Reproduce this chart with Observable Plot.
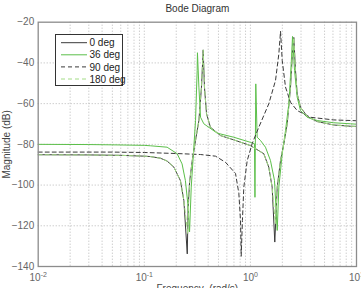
<!DOCTYPE html>
<html><head><meta charset="utf-8">
<script src="https://cdn.jsdelivr.net/npm/d3@7"></script>
<script src="https://cdn.jsdelivr.net/npm/@observablehq/plot@0.6"></script>
<style>
html,body{margin:0;padding:0;background:#fff;}
#chart{position:relative;width:361px;height:288px;overflow:hidden;}
</style></head><body><div id="chart"></div>
<script>
const title = "Bode Diagram";
const xLabel = "Frequency  (rad/s)";
const yLabel = "Magnitude (dB)";
const seriesNames = ["0 deg", "36 deg", "90 deg", "180 deg"];
const seriesColors = ["#3a3a3a", "#5cbf4a", "#3a3a3a", "#a3dc86"];
const seriesDash = [null, null, "4,3", "4,3"];

const freq0 = [0.01,0.03,0.06,0.1,0.114,0.142,0.164,0.19,0.219,0.236,0.254,0.259,0.268,0.283,0.304,0.327,0.346,0.359,0.369,0.386,0.42,0.523,0.697,1.0,1.337,1.49,1.603,1.698,1.79,1.923,2.066,2.223,2.388,2.51,2.566,2.661,2.76,2.966,3.43,4.26,6.11,8.77,10];
const mag0 = [-85.1,-85.2,-85.4,-85.8,-86.0,-86.8,-88.2,-91.2,-97.8,-107.6,-133.8,-110.9,-97.8,-88,-78.1,-68.3,-51.9,-33.6,-51.9,-65,-71.6,-75.7,-77.8,-80.6,-84.6,-91.2,-101,-128,-101,-87.9,-79.7,-69.9,-51.9,-32,-27.5,-43.7,-55.2,-61.7,-66.3,-68.8,-70.5,-71.1,-71.2];

const freq36 = [0.01,0.03,0.06,0.1,0.114,0.164,0.204,0.227,0.244,0.257,0.267,0.277,0.293,0.304,0.315,0.317,0.327,0.339,0.364,0.486,0.697,1.0,1.092,1.104,1.124,1.158,1.245,1.387,1.545,1.686,1.79,1.854,1.995,2.143,2.303,2.425,2.495,2.606,2.76,2.966,3.43,4.26,6.11,8.77,10];
const mag36 = [-80.0,-80.1,-80.3,-80.5,-80.7,-81.4,-84.6,-89.6,-97.8,-109,-123,-101,-81.4,-68.3,-43.7,-35,-51.9,-66.7,-69.9,-74.5,-76.5,-79,-79.7,-106,-50.3,-76.5,-78.1,-81.4,-87.9,-97.7,-122.3,-101,-84.6,-73.2,-60.1,-40.4,-27,-43.7,-56.8,-63.4,-66.7,-68.3,-69.4,-69.9,-70.1];

const freq90 = [0.01,0.05,0.1,0.2,0.339,0.469,0.582,0.724,0.778,0.807,0.819,0.841,0.867,0.933,1.04,1.2,1.49,1.725,1.854,1.923,1.995,2.143,2.388,2.76,3.68,6.11,10];
const mag90 = [-83.8,-83.8,-84.0,-84.5,-85.0,-85.8,-88.8,-94.3,-104,-117.4,-135,-117.4,-101,-88,-79.6,-71.6,-60.1,-48.6,-35.5,-24.5,-38.8,-51.9,-59.3,-63.4,-66.7,-68,-68.4];

const freq180 = [0.01,0.03,0.06,0.1,0.114,0.142,0.164,0.19,0.219,0.236,0.257,0.262,0.268,0.283,0.304,0.327,0.346,0.359,0.369,0.386,0.42,0.523,0.697,1.0,1.337,1.49,1.603,1.72,1.79,1.923,2.066,2.223,2.388,2.51,2.566,2.661,2.76,2.966,3.43,4.26,6.11,8.77,10];
const mag180 = [-85.1,-85.2,-85.4,-85.8,-86.0,-86.8,-88.2,-91.2,-97.8,-107.6,-124,-108,-97.8,-88,-78.1,-68.3,-51.9,-33.6,-51.9,-65,-71.6,-75.7,-77.8,-80.6,-84.6,-91.2,-101,-119,-101,-87.9,-79.7,-69.9,-51.9,-32,-27.5,-43.7,-55.2,-61.7,-66.3,-68.8,-70.5,-71.1,-71.2];

const xTicks = [0.01, 0.1, 1, 10];
const xTickExponents = ["-2", "-1", "0", "1"];
const xGrid = [0.02,0.03,0.04,0.05,0.06,0.07,0.08,0.09,0.1,0.2,0.3,0.4,0.5,0.6,0.7,0.8,0.9,1,2,3,4,5,6,7,8,9];
const yTicks = [-140, -120, -100, -80, -60, -40, -20];
const yGrid = [-120, -100, -80, -60, -40];

const freqs = [freq0, freq36, freq90, freq180];
const mags = [mag0, mag36, mag90, mag180];
const tables = seriesNames.map((name, s) => freqs[s].map((f, i) => ({series: name, f, db: mags[s][i]})));

const chart = Plot.plot({
  width: 361, height: 288,
  marginLeft: 37.7, marginRight: 5, marginTop: 21.7, marginBottom: 22,
  style: {fontFamily: "'Liberation Sans', Arial, sans-serif", fontSize: "10px", color: "#555", background: "white", overflow: "visible"},
  x: {type: "log", domain: [0.01, 10]},
  y: {domain: [-140, -20]},
  marks: [
    Plot.gridX(xGrid, {stroke: "#b8b8b8", strokeOpacity: 1, strokeDasharray: "1,2"}),
    Plot.gridY(yGrid, {stroke: "#b8b8b8", strokeOpacity: 1, strokeDasharray: "1,2"}),
    ...tables.map((t, s) => Plot.line(t, {x: "f", y: "db", stroke: seriesColors[s], strokeWidth: 1, strokeDasharray: seriesDash[s]})),
    Plot.frame({stroke: "#8c8c8c", strokeWidth: 1.3}),
    Plot.axisY(yTicks, {tickSize: 0, tickPadding: 4, label: null, fill: "#666"}),
    Plot.axisX(xTicks, {tickSize: 0, tickPadding: 7, label: null, fill: "#666", tickFormat: d => "10"}),
    Plot.text([title], {text: d => d, frameAnchor: "top", lineAnchor: "bottom", dy: -10, fill: "#333", fontSize: 10}),
    Plot.text([xLabel], {text: d => d, frameAnchor: "bottom", lineAnchor: "top", dy: 18, fill: "#444", fontSize: 10}),
    Plot.text([yLabel], {text: d => d, frameAnchor: "left", rotate: -90, dx: -31.7, textAnchor: "middle", lineAnchor: "middle", fill: "#444", fontSize: 10})
  ]
});
document.getElementById("chart").append(chart);

// superscript exponents on x tick labels
d3.select(chart).selectAll('g[aria-label="x-axis tick label"] text').each(function(d, i) {
  const t = d3.select(this);
  t.text("10");
  t.append("tspan").attr("dy", "-0.45em").attr("font-size", "7px").text(xTickExponents[i]);
});

// legend
const lg = d3.select(chart).append("g").attr("text-anchor", "start");
lg.append("rect").attr("x", 55.5).attr("y", 34.5).attr("width", 67).attr("height", 51)
  .attr("fill", "white").attr("stroke", "#333").attr("stroke-width", 1);
seriesNames.forEach((name, i) => {
  const y = 42.7 + i * 12.1;
  lg.append("line").attr("x1", 61).attr("x2", 87).attr("y1", y).attr("y2", y)
    .attr("stroke", seriesColors[i]).attr("stroke-width", 1)
    .attr("stroke-dasharray", seriesDash[i]);
  lg.append("text").attr("x", 89.5).attr("y", y + 3.6).attr("fill", "#222")
    .attr("text-anchor", "start").attr("font-size", 10).text(name);
});
</script></body></html>
